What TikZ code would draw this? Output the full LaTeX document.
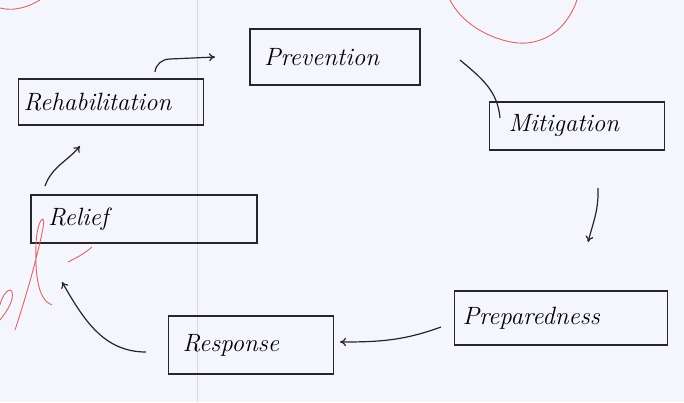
\documentclass[tikz,border=0pt]{standalone}
\usetikzlibrary{arrows.meta}
\begin{document}
\begin{tikzpicture}[x=1pt,y=-1pt,
  stage/.style={draw=black!85,line width=1.2pt,inner xsep=14pt,inner ysep=2pt,align=left,
    font=\fontsize{25}{27}\selectfont\itshape},
  flow/.style={draw=black!85,line width=1.2pt,-{To[length=6pt,width=8pt]}},
  plainflow/.style={draw=black!85,line width=1.2pt},
  redmark/.style={draw=red!75!black!60,line width=0.9pt}]
\fill[gray!8!blue!4] (0,0) rectangle (684,402);
\useasboundingbox (0,0) rectangle (684,402);
\draw[gray!30,line width=0.6pt] (197,0) -- (197,402);
% stages
\node[stage,text width=142pt,minimum height=56pt] (prev) at (335,57) {Prevention};
\node[stage,text width=137pt,minimum height=48pt,inner xsep=19pt] (miti) at (577,126) {Mitigation};
\node[stage,text width=197pt,minimum height=54pt,inner xsep=8pt] (prep) at (561,318) {Preparedness};
\node[stage,text width=137pt,minimum height=58pt] (resp) at (251,345) {Response};
\node[stage,text width=192pt,minimum height=48pt,inner xsep=17pt] (reli) at (144,219) {Relief};
\node[stage,text width=175pt,minimum height=46pt,inner xsep=5pt] (reha) at (111,102) {Rehabilitation};
% cycle connectors
\coordinate (a1) at (155,72);
\coordinate (a2) at (215,57);
\draw[flow] (a1) to[out=85,in=180] (170,59) -- (a2);
\coordinate (b1) at (460,60);
\coordinate (b2) at (500,118);
\draw[plainflow] (b1) to[out=-40,in=95] (b2);
\coordinate (c1) at (598,188);
\coordinate (c2) at (588,242);
\draw[flow] (c1) to[out=-88,in=75] (c2);
\coordinate (d1) at (441,327);
\coordinate (d2) at (340,342);
\draw[flow] (d1) to[out=200,in=0] (d2);
\coordinate (e1) at (146,352);
\coordinate (e2) at (62,282);
\draw[flow] (e1) to[out=180,in=-60] (e2);
\coordinate (f1) at (45,186);
\coordinate (f2) at (80,146);
\draw[flow] (f1) to[out=70,in=-130] (f2);
% red teacher marks
\draw[redmark] (450,0) .. controls (465,30) and (505,45) .. (527,43) .. controls (555,40) and (570,20) .. (577,0);
\draw[redmark] (0,8) .. controls (15,12) and (30,6) .. (40,0);
\draw[redmark] (15,330) .. controls (25,300) and (38,255) .. (43,228) .. controls (46,212) and (37,218) .. (36,245) .. controls (35,275) and (38,300) .. (52,305);
\draw[redmark] (0,320) .. controls (8,310) and (14,300) .. (12,292) .. controls (10,286) and (2,295) .. (0,305);
\draw[redmark] (68,262) .. controls (76,258) and (84,254) .. (92,247);
\end{tikzpicture}
\end{document}
